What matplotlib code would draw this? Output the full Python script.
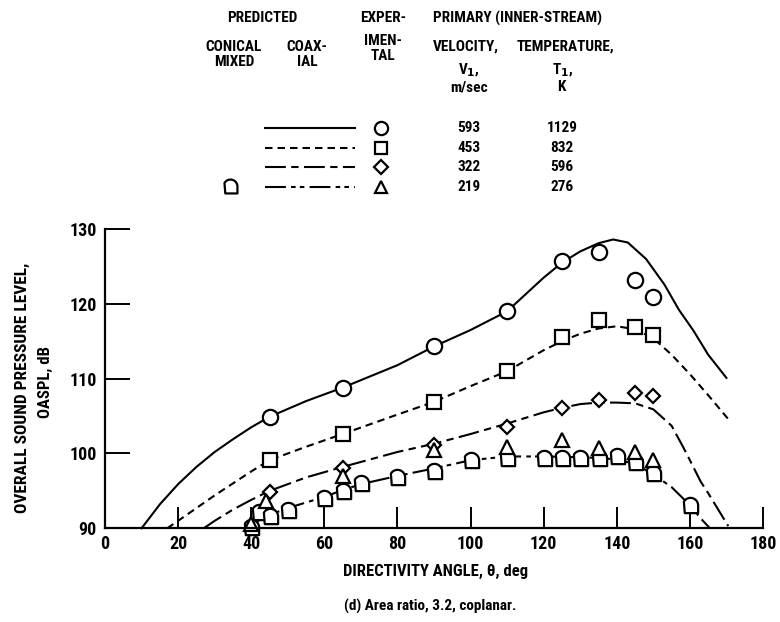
import numpy as np
import matplotlib
matplotlib.use("Agg")
import matplotlib.pyplot as plt
from matplotlib.lines import Line2D
from matplotlib.path import Path
from matplotlib import font_manager

# ---------------- data ----------------
velocities = ["593", "453", "322", "219"]
temperatures = ["1129", "832", "596", "276"]

# predicted coaxial curves
pred1_x = [10, 15, 20, 25, 30, 35, 40, 45, 55, 65, 80, 90, 100, 110, 120, 125, 130, 135, 139, 143, 148, 153, 157, 161, 165, 170]
pred1_y = [90, 93.2, 95.9, 98.2, 100.2, 101.9, 103.5, 104.9, 107.0, 108.8, 111.8, 114.3, 116.5, 119.0, 123.5, 125.5, 127.0, 128.1, 128.6, 128.2, 126.0, 122.6, 119.2, 116.4, 113.2, 110.1]

pred2_x = [17, 20, 25, 30, 35, 40, 45, 55, 65, 80, 90, 100, 110, 120, 125, 130, 135, 140, 145, 150, 155, 160, 165, 171]
pred2_y = [90, 91.0, 92.7, 94.4, 96.0, 97.6, 99.1, 100.9, 102.6, 105.2, 106.9, 109.0, 111.0, 113.8, 115.0, 116.0, 116.7, 117.0, 116.6, 115.4, 113.2, 110.6, 107.8, 104.3]

pred3_x = [27, 30, 35, 40, 45, 55, 65, 80, 90, 100, 110, 120, 125, 130, 135, 140, 145, 150, 155, 158, 160, 163, 165, 168, 170.5]
pred3_y = [90, 91.0, 92.5, 93.8, 95.0, 96.8, 98.2, 100.2, 101.3, 102.6, 104.0, 105.5, 106.1, 106.6, 106.8, 106.8, 106.7, 105.9, 103.7, 101.0, 99.1, 96.2, 94.7, 92.3, 90.3]

pred4_x = [38, 40, 45, 50, 60, 65, 70, 80, 90, 100, 110, 120, 130, 135, 140, 145, 150, 155, 160, 163, 165.5]
pred4_y = [90, 90.5, 91.8, 92.7, 94.2, 95.1, 95.9, 97.0, 98.0, 99.1, 99.6, 99.6, 99.5, 99.4, 99.2, 98.6, 97.2, 95.5, 93.1, 91.3, 90]

# experimental
exp1_x = [45, 65, 90, 110, 125, 135, 145, 150]
exp1_y = [104.9, 108.8, 114.3, 119.0, 125.7, 126.9, 123.2, 120.9]
exp2_x = [45, 65, 90, 110, 125, 135, 145, 150]
exp2_y = [99.1, 102.6, 106.9, 111.0, 115.6, 117.9, 116.9, 115.9]
exp3_x = [45, 65, 90, 110, 125, 135, 145, 150]
exp3_y = [94.8, 98.1, 101.1, 103.6, 106.1, 107.2, 108.1, 107.7]
exp4_x = [40, 44, 65, 90, 110, 125, 135, 145, 150]
exp4_y = [90.6, 93.6, 97.0, 100.5, 100.9, 101.8, 100.7, 100.2, 99.1]

# predicted conical mixed (219 m/sec)
mix_x = [40, 42, 45, 50, 60, 65, 70, 80, 90, 100, 110, 120, 125, 130, 135, 140, 145, 150, 160]
mix_y = [90.2, 92.2, 91.6, 92.4, 94.0, 95.0, 96.0, 96.8, 97.6, 99.1, 99.4, 99.4, 99.4, 99.4, 99.4, 99.6, 98.9, 97.4, 93.1]

x_ticks = [0, 20, 40, 60, 80, 100, 120, 140, 160, 180]
y_ticks = [90, 100, 110, 120, 130]

# ---------------- style ----------------
avail = {f.name for f in font_manager.fontManager.ttflist}
fam = None
for cand in ["Liberation Sans Narrow", "DejaVu Sans Condensed", "Roboto Condensed", "DejaVu Sans"]:
    if cand in avail:
        fam = cand
        break
plt.rcParams['font.family'] = [fam, 'DejaVu Sans']
plt.rcParams['font.weight'] = 'bold'

W, H = 780, 622
fig = plt.figure(figsize=(W / 100, H / 100), dpi=100)

def fx(px):
    return px / W

def fy(py):
    return 1 - py / H

ax = fig.add_axes([fx(105), fy(528.3), fx(763) - fx(105), fy(229) - fy(528.3)])
ax.set_xlim(0, 180)
ax.set_ylim(90, 130)
for s in ["top", "right"]:
    ax.spines[s].set_visible(False)
for s in ["left", "bottom"]:
    ax.spines[s].set_linewidth(1.6)
ax.set_xticks(x_ticks)
ax.set_yticks(y_ticks)
ax.tick_params(axis='x', direction='in', length=15, width=1.4, labelsize=13, pad=5)
ax.tick_params(axis='y', direction='in', length=18, width=1.4, labelsize=13, pad=6)

lw = 1.5
styles = [
    '-',
    (0, (3.6, 2.4)),
    (0, (10, 2.6, 3.5, 2.6)),
    (0, (10, 2.5, 2.2, 2.0, 2.2, 2.5)),
]
preds = [(pred1_x, pred1_y), (pred2_x, pred2_y), (pred3_x, pred3_y), (pred4_x, pred4_y)]
for (px_, py_), ls in zip(preds, styles):
    ax.plot(px_, py_, color='black', lw=lw, linestyle=ls, clip_on=False)

# custom "conical mixed" marker: flat bottom, rounded top
ang = np.linspace(0, np.deg2rad(150), 20)
verts = [(-0.75, -1.0), (1.0, -1.0), (1.0, 0.0)] + [(np.cos(a), np.sin(a)) for a in ang] + [(-0.75, -1.0)]
mix_marker = Path(verts, closed=True)

mk = dict(mfc='white', mec='black', mew=1.6, linestyle='none', clip_on=False)
ax.plot(mix_x, mix_y, marker=mix_marker, ms=11, **mk)
ax.plot(exp1_x, exp1_y, marker='o', ms=11, **mk)
ax.plot(exp2_x, exp2_y, marker='s', ms=9.5, **mk)
ax.plot(exp3_x, exp3_y, marker='D', ms=7.5, **mk)
ax.plot(exp4_x, exp4_y, marker='^', ms=9.5, **mk)

# axis labels
fig.text(fx(436), fy(571), "DIRECTIVITY ANGLE, \u03b8, deg", ha='center', va='center', fontsize=12)
fig.text(fx(22), fy(388), "OVERALL SOUND PRESSURE LEVEL,", rotation=90, ha='center', va='center', fontsize=12.5)
fig.text(fx(45), fy(382), "OASPL, dB", rotation=90, ha='center', va='center', fontsize=12)
fig.text(fx(430), fy(606), "(d) Area ratio, 3.2, coplanar.", ha='center', va='center', fontsize=11)

# legend block
hs = 11
fig.text(fx(262), fy(18), "PREDICTED", ha='center', va='center', fontsize=hs)
fig.text(fx(383), fy(18), "EXPER-", ha='center', va='center', fontsize=hs)
fig.text(fx(433), fy(18), "PRIMARY (INNER-STREAM)", ha='left', va='center', fontsize=hs)
fig.text(fx(234), fy(47), "CONICAL", ha='center', va='center', fontsize=hs)
fig.text(fx(234), fy(62), "MIXED", ha='center', va='center', fontsize=hs)
fig.text(fx(307), fy(47), "COAX-", ha='center', va='center', fontsize=hs)
fig.text(fx(307), fy(62), "IAL", ha='center', va='center', fontsize=hs)
fig.text(fx(383), fy(41), "IMEN-", ha='center', va='center', fontsize=hs)
fig.text(fx(383), fy(56), "TAL", ha='center', va='center', fontsize=hs)
fig.text(fx(433), fy(47), "VELOCITY,", ha='left', va='center', fontsize=hs)
fig.text(fx(517), fy(47), "TEMPERATURE,", ha='left', va='center', fontsize=hs)
fig.text(fx(469), fy(70), "V$_\\mathbf{1}$,", ha='center', va='center', fontsize=hs)
fig.text(fx(469), fy(87), "m/sec", ha='center', va='center', fontsize=hs)
fig.text(fx(563), fy(70), "T$_\\mathbf{1}$,", ha='center', va='center', fontsize=hs)
fig.text(fx(561), fy(87), "K", ha='center', va='center', fontsize=hs)

row_y = [128, 148, 167, 187]
exp_markers = [('o', 9.5), ('s', 8.5), ('D', 7), ('^', 8.5)]
for i, ry in enumerate(row_y):
    fig.add_artist(Line2D([fx(265), fx(355)], [fy(ry), fy(ry)], transform=fig.transFigure,
                          color='black', lw=lw, linestyle=styles[i]))
    m, s = exp_markers[i]
    fig.add_artist(Line2D([fx(381)], [fy(ry)], transform=fig.transFigure, marker=m, ms=s,
                          mfc='white', mec='black', mew=1.6, linestyle='none'))
    fig.text(fx(469), fy(ry), velocities[i], ha='center', va='center', fontsize=hs)
    fig.text(fx(562), fy(ry), temperatures[i], ha='center', va='center', fontsize=hs)
fig.add_artist(Line2D([fx(230)], [fy(row_y[3] - 1)], transform=fig.transFigure, marker=mix_marker, ms=10,
                      mfc='white', mec='black', mew=1.6, linestyle='none'))

fig.savefig("out.png", dpi=100)
